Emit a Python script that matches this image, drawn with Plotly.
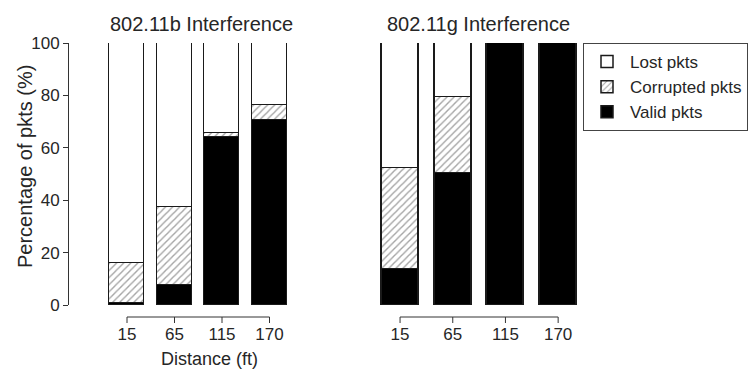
import plotly.graph_objects as go

# ---- data ----
distances = ["15", "65", "115", "170"]
series_names = ["Valid pkts", "Corrupted pkts", "Lost pkts"]

b_valid = [0.7, 7.6, 64.0, 70.5]
b_corrupted = [15.3, 29.7, 1.8, 5.7]
b_lost = [84.0, 62.7, 34.2, 23.8]

g_valid = [13.6, 50.3, 100.0, 100.0]
g_corrupted = [38.8, 29.0, 0.0, 0.0]
g_lost = [47.6, 20.7, 0.0, 0.0]

panel_titles = ["802.11b Interference", "802.11g Interference"]
y_title = "Percentage of pkts (%)"
x_title = "Distance (ft)"
y_ticks = [0, 20, 40, 60, 80, 100]

# ---- styling ----
W, H = 749, 372
FONT = "Liberation Sans, Arial, Helvetica, sans-serif"
TXT = "#262626"
EDGE = "#1a1a1a"
AX = "#333333"

styles = {
    "Valid pkts": dict(color="black", pattern=dict(shape="")),
    "Corrupted pkts": dict(color="white",
                           pattern=dict(shape="/", fgcolor="#4a4a4a", bgcolor="white",
                                        size=5, solidity=0.28, fillmode="overlay")),
    "Lost pkts": dict(color="white", pattern=dict(shape="")),
}

def px_x(p):
    return p / W

def px_y(p):
    return (H - p) / H

fig = go.Figure()

x_doms = [[px_x(103.25), px_x(293.25)], [px_x(373.7), px_x(584.5)]]
panels = [
    (dict(zip(series_names, [b_valid, b_corrupted, b_lost])), "x", "y", 0.74, True),
    (dict(zip(series_names, [g_valid, g_corrupted, g_lost])), "x2", "y2", 0.70, False),
]
for data, xa, ya, bw, show in panels:
    for name in series_names:
        st = styles[name]
        fig.add_trace(go.Bar(
            x=distances, y=data[name], name=name, xaxis=xa, yaxis=ya,
            width=bw, showlegend=show, legendgroup=name,
            marker=dict(color=st["color"], pattern=st["pattern"],
                        line=dict(color=EDGE, width=1.5)),
            hoverinfo="skip",
        ))

y_dom = [px_y(305), px_y(43)]
x_axis_pos = px_y(317)

common_x = dict(type="category", range=[-0.5, 3.5], anchor="free", position=x_axis_pos,
                showline=False, showgrid=False, zeroline=False, ticks="outside",
                ticklen=2, tickwidth=1, tickcolor="rgba(0,0,0,0)", automargin=False,
                tickfont=dict(size=17, color=TXT, family=FONT))

fig.update_layout(
    width=W, height=H,
    margin=dict(l=0, r=0, t=0, b=0, autoexpand=False),
    paper_bgcolor="white", plot_bgcolor="white",
    barmode="stack", bargap=0,
    font=dict(family=FONT, color=TXT),
    xaxis=dict(domain=x_doms[0], **common_x),
    xaxis2=dict(domain=x_doms[1], **common_x),
    yaxis=dict(domain=y_dom, range=[0, 100], anchor="free", position=px_x(68),
               showline=True, linecolor=AX, linewidth=1, showgrid=False, zeroline=False,
               ticks="outside", ticklen=5, tickcolor=AX, tickvals=y_ticks,
               tickfont=dict(size=17, color=TXT), automargin=False),
    yaxis2=dict(domain=y_dom, range=[0, 100], anchor="x2", visible=False, automargin=False),
    legend=dict(x=px_x(583), y=px_y(43), xanchor="left", yanchor="top",
                bordercolor="#444", borderwidth=1, bgcolor="white",
                traceorder="reversed", font=dict(size=17, color=TXT),
                tracegroupgap=0, itemwidth=36),
    showlegend=True,
)

# R-style x axes: baseline from first to last tick, ticks pointing down
n = len(distances)
for dom in x_doms:
    centers = [dom[0] + (i + 0.5) / n * (dom[1] - dom[0]) for i in range(n)]
    fig.add_shape(type="line", xref="paper", yref="paper",
                  x0=centers[0], x1=centers[-1], y0=x_axis_pos, y1=x_axis_pos,
                  line=dict(color=AX, width=1))
    for c in centers:
        fig.add_shape(type="line", xref="paper", yref="paper",
                      x0=c, x1=c, y0=x_axis_pos, y1=px_y(323),
                      line=dict(color=AX, width=1))

# panel titles
for title, cx in zip(panel_titles, [201, 478.5]):
    fig.add_annotation(text=title, xref="paper", yref="paper",
                       x=px_x(cx), y=px_y(24), showarrow=False,
                       xanchor="center", yanchor="middle",
                       font=dict(size=20, color=TXT))

# axis titles
fig.add_annotation(text=x_title, xref="paper", yref="paper", x=px_x(209), y=px_y(359),
                   showarrow=False, xanchor="center", yanchor="middle",
                   font=dict(size=18, color=TXT))
fig.add_annotation(text=y_title, xref="paper", yref="paper", x=px_x(25), y=px_y(167),
                   showarrow=False, xanchor="center", yanchor="middle", textangle=-90,
                   font=dict(size=20, color=TXT))

fig.write_html("out.html")
